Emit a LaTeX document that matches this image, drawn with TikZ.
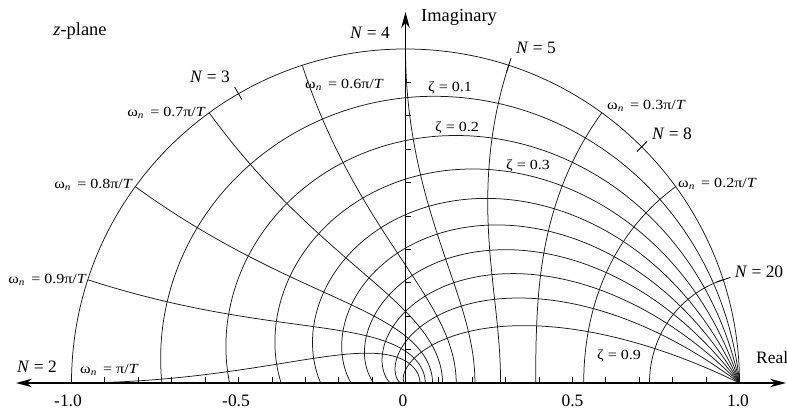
\documentclass[tikz,border=0pt]{standalone}
\usepackage{fontspec}
\setmainfont{Liberation Serif}
\newfontfamily\widefont{Liberation Serif}[FakeStretch=1.15]
\usetikzlibrary{arrows.meta}
\begin{document}
\begin{tikzpicture}[x=334bp,y=334bp,
  grid/.style={line width=0.75bp, black!90},
  axisline/.style={line width=1.3bp, black},
  bothtips/.style={arrows={Stealth[length=16bp,width=8.5bp]-Stealth[length=16bp,width=8.5bp]}},
  onetip/.style={arrows={-Stealth[length=16bp,width=8.5bp]}},
  tickline/.style={line width=0.8bp, black},
  biglab/.style={inner sep=0pt, font=\fontsize{17.5}{20}\selectfont},
  titlelab/.style={inner sep=0pt, font=\fontsize{18.5}{21}\selectfont},
  smalllab/.style={inner sep=0pt, font=\widefont\fontsize{14}{16}\selectfont},
]
\useasboundingbox (-405.5bp,-27bp) rectangle (381.5bp,383bp);

% unit circle (zeta = 0)
\draw[grid] (1,0) arc[start angle=0, end angle=180, radius=1];

% constant damping ratio curves
\foreach \z in {0.1,0.2,0.3,0.4,0.5,0.6,0.7,0.8,0.9}{
  \pgfmathsetmacro\k{\z/sqrt(1-\z*\z)}
  \draw[grid] plot[domain=0:180, samples=150, variable=\t, smooth]
    ({exp(-\k*\t*pi/180)*cos(\t)},{exp(-\k*\t*pi/180)*sin(\t)});
}

% constant natural frequency curves
\foreach \w in {0.1,0.2,0.3,0.4,0.5,0.6,0.7,0.8,0.9,1.0}{
  \draw[grid] plot[domain=0:90, samples=90, variable=\t, smooth]
    ({exp(-sin(\t)*\w*pi)*cos(\w*180*cos(\t))},{exp(-sin(\t)*\w*pi)*sin(\w*180*cos(\t))});
}

% N ticks on the unit circle
\foreach \a/\nm in {120/n3, 72/n5, 45/n8, 18/n20}{
  \coordinate (\nm a) at (\a:0.98);
  \coordinate (\nm b) at (\a:1.023);
  \draw[tickline] (\nm a) -- (\nm b);
}

% axis ticks
\foreach \i in {-9,...,-1}{ \draw[tickline] (\i/10,0) -- (\i/10,0.017); }
\foreach \i in {1,...,9}{ \draw[tickline] (\i/10,0) -- (\i/10,0.017); }
\foreach \i in {1,...,9}{ \draw[tickline] (0,\i/10) -- (0.017,\i/10); }

% axes
\coordinate (O) at (0,0);
\coordinate (lefttip) at (-389.5bp,0);
\coordinate (righttip) at (380.5bp,0);
\coordinate (toptip) at (0,371bp);
\draw[axisline, bothtips] (lefttip) -- (righttip);
\draw[axisline, onetip] (O) -- (toptip);

% labels (pixel coordinates of the reference)
\begin{scope}[x=1bp, y=-1bp, shift={(-405.5,-383)}]
  \node[titlelab, anchor=base] (zp) at (80,35) {\textit{z}-plane};
  \node[titlelab, anchor=base west] (imag) at (421,21) {Imaginary};
  \node[biglab, anchor=base west] (real) at (756,363) {Real};

  \node[biglab, anchor=base] (N2) at (37,372) {\textit{N} = 2};
  \node[biglab, anchor=base] (N3) at (210,82) {\textit{N} = 3};
  \node[biglab, anchor=base] (N4) at (370,38) {\textit{N} = 4};
  \node[biglab, anchor=base] (N5) at (536,53) {\textit{N} = 5};
  \node[biglab, anchor=base] (N8) at (672,139) {\textit{N} = 8};
  \node[biglab, anchor=base] (N20) at (759,277) {\textit{N} = 20};

  \node[smalllab, anchor=base west] (w6) at (305,88) {ω\textsubscript{\itshape n} \,= 0.6π/\textit{T}};
  \node[smalllab, anchor=base east] (w7) at (206,116) {ω\textsubscript{\itshape n} \,= 0.7π/\textit{T}};
  \node[smalllab, anchor=base east] (w8) at (133,188) {ω\textsubscript{\itshape n} \,= 0.8π/\textit{T}};
  \node[smalllab, anchor=base east] (w9) at (87,283) {ω\textsubscript{\itshape n} \,= 0.9π/\textit{T}};
  \node[smalllab, anchor=base west] (w10) at (80,373) {ω\textsubscript{\itshape n} \,= π/\textit{T}};
  \node[smalllab, anchor=base west] (w3) at (607,109) {ω\textsubscript{\itshape n} \,= 0.3π/\textit{T}};
  \node[smalllab, anchor=base west] (w2) at (678,187) {ω\textsubscript{\itshape n} \,= 0.2π/\textit{T}};

  \node[smalllab, anchor=base] (z1) at (450,91) {ζ = 0.1};
  \node[smalllab, anchor=base] (z2) at (457,131) {ζ = 0.2};
  \node[smalllab, anchor=base] (z3) at (528,169) {ζ = 0.3};
  \node[smalllab, anchor=base] (z9) at (619,359) {ζ = 0.9};

  \node[biglab, anchor=base] (xm10) at (68,406) {-1.0};
  \node[biglab, anchor=base] (xm05) at (236,406) {-0.5};
  \node[biglab, anchor=base] (x0) at (403,406) {0};
  \node[biglab, anchor=base] (x05) at (572.5,406) {0.5};
  \node[biglab, anchor=base] (x10) at (738,406) {1.0};
\end{scope}
\end{tikzpicture}
\end{document}
